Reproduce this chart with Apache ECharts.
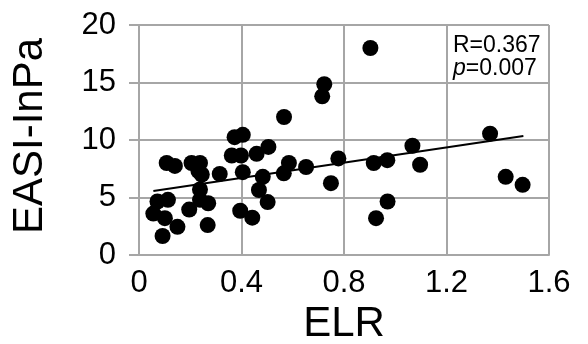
<!DOCTYPE html>
<html><head><meta charset="utf-8">
<script src="https://cdn.jsdelivr.net/npm/echarts@6/dist/echarts.min.js"></script>
<style>html,body{margin:0;padding:0;background:#fff}#c{width:588px;height:344px}</style>
</head><body><div id="c"></div>
<script>
const elr = [0.108,0.14,0.205,0.238,0.245,0.232,0.315,0.238,0.27,0.238,0.196,0.072,0.113,0.056,0.101,0.15,0.092,0.268,0.395,0.442,0.362,0.398,0.373,0.405,0.459,0.505,0.405,0.483,0.468,0.502,0.565,0.585,0.652,0.749,0.778,0.566,0.715,0.723,0.903,0.916,0.969,1.067,1.097,0.97,0.925,1.37,1.431,1.497];
const easi = [8.0,7.75,8.0,8.0,7.0,7.3,7.05,5.7,4.5,4.8,3.95,4.65,4.8,3.6,3.2,2.45,1.65,2.6,3.85,3.25,8.65,8.65,10.25,10.45,8.8,9.4,7.2,6.8,5.65,4.6,7.1,8.0,7.65,6.25,8.4,12.0,13.8,14.85,18.0,8.0,8.25,9.5,7.85,4.65,3.2,10.55,6.8,6.1];
const fitX = [0.056, 1.5];
const fitY = [5.57, 10.35];
const xTicks = [0, 0.4, 0.8, 1.2, 1.6];
const yTicks = [0, 5, 10, 15, 20];
const statR = 'R=0.367';
const statP = '0.007';

const chart = echarts.init(document.getElementById('c'));
const font = 'Liberation Sans, Arial, sans-serif';
const grey = '#a6a6a6';
chart.setOption({
  animation: false,
  grid: {left: 139, top: 25, width: 410, height: 230, show: false, containLabel: false, outerBoundsMode: 'none'},
  xAxis: {
    type: 'value', min: xTicks[0], max: xTicks[xTicks.length-1], interval: 0.4,
    name: 'ELR', nameLocation: 'middle', nameGap: 42,
    nameTextStyle: {fontFamily: font, fontSize: 42, color: '#000'},
    axisLine: {show: true, lineStyle: {color: grey, width: 2}},
    axisTick: {show: false},
    splitLine: {show: true, lineStyle: {color: grey, width: 2}},
    axisLabel: {fontFamily: font, fontSize: 31, color: '#000', margin: 13,
      formatter: v => String(+(+v).toFixed(1))}
  },
  yAxis: {
    type: 'value', min: yTicks[0], max: yTicks[yTicks.length-1], interval: 5,
    name: 'EASI-InPa', nameLocation: 'middle', nameGap: 88, nameRotate: 90,
    nameTextStyle: {fontFamily: font, fontSize: 42, color: '#000', padding: [0, 0, 0, 8]},
    axisLine: {show: true, lineStyle: {color: grey, width: 2}},
    axisTick: {show: true, inside: false, length: 10, lineStyle: {color: grey, width: 2}},
    splitLine: {show: true, lineStyle: {color: grey, width: 2}},
    axisLabel: {fontFamily: font, fontSize: 31, color: '#000', margin: 23}
  },
  graphic: [{
    type: 'text', left: 453, top: 34, z: 10,
    style: {
      text: statR + '\n{i|p}=' + statP,
      rich: {i: {fontStyle: 'italic', fontFamily: font, fontSize: 23, fill: '#000'}},
      fontFamily: font, fontSize: 23, fill: '#000', lineHeight: 23
    }
  }],
  series: [
    {type: 'scatter', data: elr.map((x, i) => [x, easi[i]]), symbol: 'circle', symbolSize: 16,
     itemStyle: {color: '#000', opacity: 1}, z: 3},
    {type: 'line', data: fitX.map((x, i) => [x, fitY[i]]), symbol: 'none',
     lineStyle: {color: '#000', width: 2}, z: 4}
  ]
});
</script></body></html>
